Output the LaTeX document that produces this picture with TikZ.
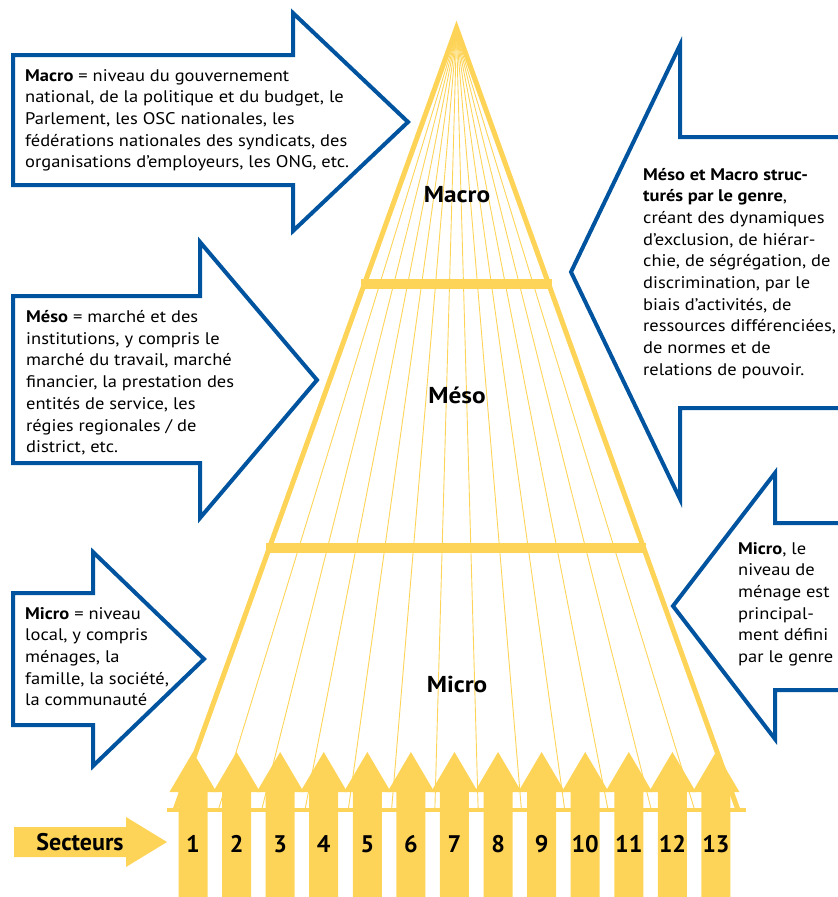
\documentclass[tikz,border=0pt]{standalone}
\usepackage{fontspec}
\setmainfont{PT Sans}
\newfontfamily\widesans{PT Sans}[FakeStretch=1.1]
\definecolor{pyr}{RGB}{254,212,88}
\definecolor{navy}{RGB}{0,84,159}

\begin{document}
\begin{tikzpicture}[x=1pt,y=-1pt,
  edge/.style={draw=pyr, line width=5pt, line join=miter},
  bar/.style={draw=pyr, line width=10pt},
  ray/.style={draw=pyr, line width=0.9pt},
  callout/.style={draw=navy, line width=4pt, fill=white, line join=miter},
  body/.style={anchor=base west, inner sep=0pt, font=\widesans\fontsize{16.8}{21.7}\selectfont, text=black},
  level/.style={anchor=base, inner sep=0pt, font=\widesans\fontsize{23}{26}\selectfont\bfseries},
  num/.style={anchor=base, inner sep=0pt, font=\fontsize{24}{26}\selectfont\bfseries},
]
\useasboundingbox (0,0) rectangle (838,897);
\clip (0,0) rectangle (838,897);

% pyramid corners
\coordinate (apex) at (456.5,28);
\coordinate (bl) at (175,810);
\coordinate (br) at (738,810);

% rays fanning out from the top
\foreach \k in {1,...,12}
  \draw[ray] (456.5,34) -- ({175+\k*563/13},810);

% outline, base and level bars
\draw[edge] (bl) -- (apex) -- (br);
\draw[pyr, line width=4pt] (167,810) -- (746,810);
\draw[bar] (361,284) -- (552,284);
\draw[bar] (266,548) -- (646,548);

% level labels
\node[level] (lmacro) at (457,202) {Macro};
\node[level] (lmeso) at (457,403) {Méso};
\node[level] (lmicro) at (457,692) {Micro};

% sector arrows
\foreach \i in {1,...,13} {
  \pgfmathsetmacro{\cx}{193+43.58*(\i-1)}
  \fill[pyr] (\cx-14.5,900) -- (\cx-14.5,792) -- (\cx-23.5,792) -- (\cx,752)
    -- (\cx+23.5,792) -- (\cx+14.5,792) -- (\cx+14.5,900) -- cycle;
  \node[num] (s\i) at (\cx,852) {\i};
}

% "Secteurs" arrow
\fill[pyr] (14,827) -- (126,827) -- (126,817) -- (167,842) -- (126,867)
  -- (126,857) -- (14,857) -- cycle;
\node[num] (sect) at (80,850) {Secteurs};

% left callouts
\draw[callout] (13,55) -- (293,55) -- (293,13) -- (408,122) -- (293,231)
  -- (293,185) -- (13,185) -- cycle;
\draw[callout] (13,296) -- (200,296) -- (200,242) -- (317,380) -- (200,518)
  -- (200,463) -- (13,463) -- cycle;
\draw[callout] (13,593) -- (93,593) -- (93,552) -- (204,659) -- (93,766)
  -- (93,725) -- (13,725) -- cycle;

% right callouts
\draw[callout] (860,137) -- (680,137) -- (680,45) -- (571,272) -- (680,499)
  -- (680,408) -- (860,408) -- cycle;
\draw[callout] (860,523) -- (775,523) -- (775,473) -- (673,606) -- (775,739)
  -- (775,690) -- (860,690) -- cycle;

% callout texts
\node[body] (tmacro) at (25,81) {\parbox[t]{380pt}{%
  \textbf{Macro} = niveau du gouvernement\\
  national, de la politique et du budget, le\\
  Parlement, les OSC nationales, les\\
  fédérations nationales des syndicats, des\\
  organisations d’employeurs, les ONG, etc.}};
\node[body] (tmeso) at (26,322.5) {\parbox[t]{300pt}{%
  \textbf{Méso} = marché et des\\
  institutions, y compris le\\
  marché du travail, marché\\
  financier, la prestation des\\
  entités de service, les\\
  régies regionales / de\\
  district, etc.}};
\node[body] (tmicro) at (25,619) {\parbox[t]{200pt}{%
  \textbf{Micro} = niveau\\
  local, y compris\\
  ménages, la\\
  famille, la société,\\
  la communauté}};
\node[body] (tgenre) at (643,180) {\parbox[t]{250pt}{%
  \textbf{Méso et Macro struc-}\\
  \textbf{turés par le genre},\\
  créant des dynamiques\\
  d’exclusion, de hiérar-\\
  chie, de ségrégation, de\\
  discrimination, par le\\
  biais d’activités, de\\
  ressources différenciées,\\
  de normes et de\\
  relations de pouvoir.}};
\node[body] (tmenage) at (738,554) {\parbox[t]{150pt}{%
  \textbf{Micro}, le\\
  niveau de\\
  ménage est\\
  principal-\\
  ment défini\\
  par le genre}};
\end{tikzpicture}
\end{document}
